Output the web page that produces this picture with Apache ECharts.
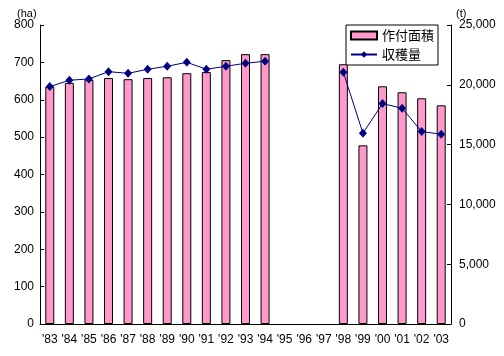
<!DOCTYPE html>
<html>
<head>
<meta charset="utf-8">
<script src="https://cdn.jsdelivr.net/npm/echarts@6/dist/echarts.min.js"></script>
<style>html,body{margin:0;padding:0;background:#fff;}#c{width:504px;height:356px;}</style>
</head>
<body>
<div id="c"></div>
<script>
var categories = ["'83","'84","'85","'86","'87","'88","'89","'90","'91","'92","'93","'94","'95","'96","'97","'98","'99","'00","'01","'02","'03"];
var areaHa = [635,645,653,658,655,658,660,671,674,706,722,722,null,null,null,695,478,636,620,604,585];
var harvestT = [19850,20380,20490,21100,20960,21300,21550,21880,21300,21550,21800,21970,null,null,null,21050,15950,18430,18040,16090,15870];
var leftTicks = {min:0, max:800, interval:100};
var rightTicks = {min:0, max:25000, interval:5000};

var font = "'Liberation Sans', 'Noto Sans CJK JP', sans-serif";
var chart = echarts.init(document.getElementById('c'), null, {renderer:'canvas'});
chart.setOption({
  animation:false,
  backgroundColor:'#fff',
  textStyle:{fontFamily:font},
  grid:{left:40, right:53, top:25, bottom:32},
  graphic:[
    {type:'text', left:17, top:8, style:{text:'(ha)', font:'11px '+font, fill:'#000'}},
    {type:'text', left:456, top:8, style:{text:'(t)', font:'11px '+font, fill:'#000'}}
  ],
  legend:{
    orient:'vertical', left:346, top:25,
    backgroundColor:'#fff', borderColor:'#000', borderWidth:1, borderRadius:0,
    padding:[4,4,4,4], itemGap:6, itemWidth:26, itemHeight:8,
    textStyle:{fontSize:13, fontFamily:"'Noto Sans CJK JP', sans-serif", color:'#000'},
    data:[{name:'作付面積', icon:'rect'}, {name:'収穫量'}]
  },
  xAxis:{
    type:'category', data:categories, boundaryGap:true,
    axisLine:{lineStyle:{color:'#000', width:1}},
    axisTick:{inside:true, length:4, alignWithLabel:false, lineStyle:{color:'#000'}},
    axisLabel:{color:'#000', fontSize:12, margin:10, interval:0}
  },
  yAxis:[
    {type:'value', min:leftTicks.min, max:leftTicks.max, interval:leftTicks.interval,
     axisLine:{show:true, lineStyle:{color:'#000'}},
     axisTick:{show:true, inside:true, length:4, lineStyle:{color:'#000'}},
     splitLine:{show:false},
     axisLabel:{color:'#000', fontSize:12, margin:6}},
    {type:'value', min:rightTicks.min, max:rightTicks.max, interval:rightTicks.interval, position:'right',
     axisLine:{show:true, lineStyle:{color:'#000'}},
     axisTick:{show:true, inside:true, length:4, lineStyle:{color:'#000'}},
     splitLine:{show:false},
     axisLabel:{color:'#000', fontSize:12, margin:8,
       formatter:function(v){return v.toString().replace(/\B(?=(\d{3})+(?!\d))/g, ',');}}}
  ],
  series:[
    {name:'作付面積', type:'bar', yAxisIndex:0, data:areaHa, barWidth:9,
     itemStyle:{color:'#FF99CC', borderColor:'#000', borderWidth:1}},
    {name:'収穫量', type:'line', yAxisIndex:1, data:harvestT, connectNulls:false,
     symbol:'diamond', symbolSize:[8,9], showSymbol:true,
     lineStyle:{color:'#000080', width:1},
     itemStyle:{color:'#000080'}}
  ]
});
</script>
</body>
</html>
